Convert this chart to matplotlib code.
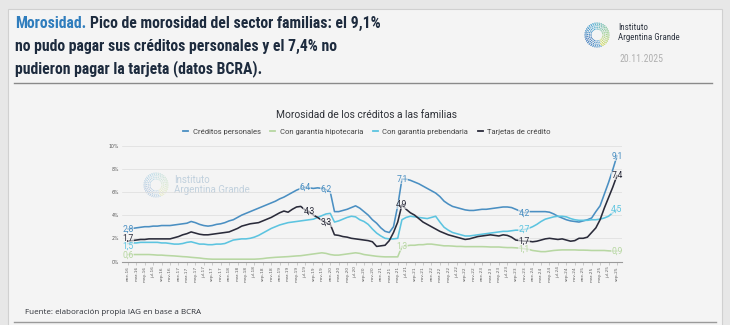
import numpy as np
import matplotlib
matplotlib.use('Agg')
import matplotlib.pyplot as plt
from matplotlib.lines import Line2D
from matplotlib.patches import Rectangle
from matplotlib.colors import LinearSegmentedColormap
from matplotlib import font_manager

# ---------------- data ----------------
meses = ['ene', 'feb', 'mar', 'abr', 'may', 'jun', 'jul', 'ago', 'sep', 'oct', 'nov', 'dic']
periodos = [f"{meses[i % 12]}-{16 + i // 12}" for i in range(117)]  # ene-16 .. sep-25

personales = [
    2.8, 2.85, 2.9, 2.95, 3.0, 3.0, 3.05, 3.05, 3.1, 3.1, 3.1, 3.15,
    3.2, 3.25, 3.3, 3.45, 3.35, 3.2, 3.1, 3.05, 3.1, 3.2, 3.25, 3.35,
    3.5, 3.6, 3.8, 4.0, 4.15, 4.3, 4.45, 4.6, 4.75, 4.9, 5.05, 5.2,
    5.4, 5.55, 5.75, 5.95, 6.15, 6.3, 6.4, 6.35, 6.3, 6.35, 6.3, 6.2,
    6.0, 4.3, 4.3, 4.4, 4.5, 4.65, 4.8, 4.6, 4.3, 4.0, 3.6, 3.3,
    2.9, 2.6, 2.5, 3.0, 4.8, 7.1, 7.1, 7.0, 6.85, 6.7, 6.5, 6.3,
    6.1, 5.9, 5.6, 5.2, 4.95, 4.75, 4.65, 4.55, 4.45, 4.4, 4.4, 4.45,
    4.5, 4.5, 4.55, 4.6, 4.65, 4.7, 4.7, 4.65, 4.5, 4.35, 4.2, 4.3,
    4.3, 4.3, 4.3, 4.3, 4.25, 4.1, 3.9, 3.75, 3.6, 3.5, 3.45, 3.4,
    3.5, 3.6, 3.75, 4.3, 4.8, 5.8, 6.8, 7.9, 9.1,
]
hipotecaria = [
    0.6, 0.6, 0.6, 0.6, 0.6, 0.6, 0.58, 0.55, 0.55, 0.52, 0.5, 0.48,
    0.45, 0.42, 0.4, 0.36, 0.33, 0.3, 0.25, 0.22, 0.2, 0.2, 0.2, 0.2,
    0.2, 0.2, 0.2, 0.2, 0.2, 0.2, 0.2, 0.22, 0.25, 0.3, 0.33, 0.36,
    0.38, 0.4, 0.42, 0.45, 0.48, 0.5, 0.55, 0.6, 0.65, 0.7, 0.75, 0.7,
    0.6, 0.55, 0.55, 0.6, 0.65, 0.7, 0.75, 0.7, 0.6, 0.55, 0.5, 0.45,
    0.42, 0.4, 0.4, 0.4, 0.4, 1.3, 1.35, 1.4, 1.4, 1.45, 1.45, 1.5,
    1.5, 1.45, 1.4, 1.35, 1.35, 1.33, 1.3, 1.3, 1.28, 1.28, 1.28, 1.28,
    1.28, 1.27, 1.25, 1.25, 1.25, 1.22, 1.2, 1.2, 1.18, 1.15, 1.1, 1.05,
    0.95, 0.9, 0.85, 0.85, 0.9, 0.95, 0.98, 1.0, 1.0, 1.0, 1.0, 0.98,
    0.98, 0.97, 0.95, 0.95, 0.95, 0.95, 0.92, 0.9, 0.9,
]
prendaria = [
    1.55, 1.6, 1.6, 1.65, 1.65, 1.65, 1.65, 1.65, 1.6, 1.6, 1.55, 1.5,
    1.5, 1.55, 1.65, 1.7, 1.6, 1.5, 1.5, 1.45, 1.45, 1.5, 1.5, 1.55,
    1.7, 1.85, 1.9, 1.95, 1.95, 2.0, 2.1, 2.25, 2.45, 2.65, 2.85, 3.0,
    3.15, 3.25, 3.35, 3.4, 3.45, 3.5, 3.55, 3.6, 3.65, 3.8, 3.95, 4.1,
    4.15, 3.4, 3.5, 3.65, 3.8, 3.9, 3.85, 3.6, 3.45, 3.2, 2.8, 2.45,
    2.2, 2.0, 1.95, 1.95, 2.0, 3.6, 3.8, 3.9, 3.85, 3.8, 3.75, 3.7,
    3.8, 3.9, 3.4, 2.95, 2.7, 2.5, 2.4, 2.3, 2.2, 2.2, 2.25, 2.3,
    2.35, 2.4, 2.45, 2.5, 2.55, 2.6, 2.6, 2.65, 2.7, 2.7, 2.75, 2.85,
    3.0, 3.2, 3.45, 3.65, 3.75, 3.85, 3.9, 3.9, 3.85, 3.7, 3.6, 3.55,
    3.55, 3.55, 3.6, 3.6, 3.65, 3.75, 3.9, 4.2, 4.5,
]
tarjetas = [
    1.75, 1.8, 1.85, 1.9, 1.9, 1.95, 1.95, 1.95, 1.95, 1.95, 1.95, 2.05,
    2.15, 2.3, 2.4, 2.55, 2.45, 2.35, 2.3, 2.3, 2.35, 2.4, 2.45, 2.5,
    2.55, 2.7, 2.85, 3.05, 3.15, 3.25, 3.3, 3.35, 3.5, 3.65, 3.8, 4.0,
    4.2, 4.35, 4.25, 4.5, 4.7, 4.75, 4.45, 4.3, 4.0, 3.8, 3.55, 3.35,
    3.2, 2.3, 2.25, 2.15, 2.1, 2.0, 1.95, 1.9, 1.85, 1.8, 1.7, 1.3,
    1.35, 1.4, 1.8, 2.5, 3.4, 4.9, 4.5, 4.2, 4.0, 3.7, 3.4, 3.2,
    3.0, 2.8, 2.6, 2.45, 2.3, 2.2, 2.1, 2.0, 1.9, 1.95, 2.05, 2.15,
    2.2, 2.25, 2.3, 2.25, 2.2, 2.3, 2.25, 2.1, 1.85, 1.8, 1.75, 1.75,
    1.7, 1.75, 1.85, 1.95, 2.0, 1.95, 1.9, 1.95, 1.85, 1.75, 1.8, 2.0,
    2.0, 2.1, 2.5, 2.9, 3.6, 4.6, 5.5, 6.4, 7.4,
]

series_names = ['Créditos personales', 'Con garantía hipotecaria',
                'Con garantía prebendaria', 'Tarjetas de crédito']
series_vals = [personales, hipotecaria, prendaria, tarjetas]
series_cols = ['#4a8fc2', '#b7d7a2', '#5cc4e0', '#2a2b3a']

# labelled points: (series index, month index, text, vertical nudge in points)
etiquetas = [
    (0, 0, '2,8', 0), (3, 0, '1,7', 2.0), (2, 0, '1,5', -2.2), (1, 0, '0,6', -0.5),
    (0, 42, '6,4', 0), (0, 47, '6,2', 0), (3, 43, '4,3', 0), (3, 47, '3,3', 0),
    (0, 65, '7,1', 0), (3, 65, '4,9', 0), (1, 65, '1,3', 0),
    (0, 94, '4,2', 0), (2, 94, '2,7', 0), (3, 94, '1,7', 0), (1, 94, '1,1', -0.5),
    (0, 116, '9,1', 0), (3, 116, '7,4', 0), (2, 116, '4,5', 0), (1, 116, '0,9', 0),
]

titulo_1a = 'Morosidad.'
titulo_1b = 'Pico de morosidad del sector familias: el 9,1%'
titulo_2 = 'no pudo pagar sus créditos personales y el 7,4% no'
titulo_3 = 'pudieron pagar la tarjeta (datos BCRA).'
titulo_graf = 'Morosidad de los créditos a las familias'
fuente = 'Fuente: elaboración propia IAG en base a BCRA'
fecha = '20.11.2025'

# choose a condensed face if one is installed
installed = {f.name for f in font_manager.fontManager.ttflist}
cond = [n for n in ['Roboto Condensed', 'Open Sans Condensed', 'Liberation Sans Narrow',
                    'Noto Sans Condensed', 'DejaVu Sans Condensed'] if n in installed]
TFONT = cond[:1] + ['Roboto', 'DejaVu Sans']

# ---------------- figure ----------------
W, H = 730, 325
fig = plt.figure(figsize=(7.3, 3.25), dpi=100)
fig.patch.set_facecolor('#e7e7e7')

deco = fig.add_axes([0, 0, 1, 1], zorder=0)
deco.set_xlim(0, W)
deco.set_ylim(H, 0)
deco.axis('off')

CARD = '#f4f4f4'
deco.add_patch(Rectangle((8, 9), 714, 320, facecolor=CARD, edgecolor='#d0d0d0', lw=0.8))
deco.plot([14, 712], [83, 83], color='#8a8a8a', lw=1.0)
deco.plot([14, 716], [322, 322], color='#9a9a9a', lw=1.0)

fig.canvas.draw()
renderer = fig.canvas.get_renderer()


def width_of(t):
    return t.get_window_extent(renderer).width


TKW = dict(fontweight='bold', family=TFONT, fontstretch='condensed')
probe = deco.text(0, 0, titulo_1a + ' ' + titulo_1b, fontsize=12, **TKW)
fs = 12 * 368 / width_of(probe)
probe.remove()

t1 = deco.text(15, 27.5, titulo_1a, fontsize=fs, color='#2f7dbd', va='baseline', **TKW)
sp1 = deco.text(0, 0, 'a a', fontsize=fs, **TKW)
sp2 = deco.text(0, 0, 'aa', fontsize=fs, **TKW)
space_w = width_of(sp1) - width_of(sp2)
sp1.remove(); sp2.remove()
deco.text(15 + width_of(t1) + space_w, 27.5, titulo_1b, fontsize=fs,
          color='#1d2b3e', va='baseline', **TKW)
deco.text(15, 50.5, titulo_2, fontsize=fs, color='#1d2b3e', va='baseline', **TKW)
deco.text(15, 73, titulo_3, fontsize=fs, color='#1d2b3e', va='baseline', **TKW)

# logos
logo_cmap = LinearSegmentedColormap.from_list('logo', ['#d5dc55', '#8cc98f', '#45a8d4', '#2f6db5', '#5aa0d0'])


def draw_logo(cx, cy, R, alpha, s):
    for k, rr in enumerate([0.5, 0.64, 0.78, 0.9, 1.0]):
        n = int(14 + 22 * rr)
        th = np.linspace(0, 2 * np.pi, n, endpoint=False) + 0.13 * k
        t = ((th + 1.2) % (2 * np.pi)) / (2 * np.pi)
        deco.scatter(cx + R * rr * np.cos(th), cy - R * rr * np.sin(th), s=s * (0.6 + 0.5 * rr),
                     c=logo_cmap(t), alpha=alpha, linewidths=0, zorder=2)


draw_logo(597, 35, 12, 0.95, 0.9)
deco.text(618, 30, 'Instituto', fontsize=6.5, family=TFONT, fontstretch='condensed',
          color='#333a45', va='baseline')
deco.text(618, 40.5, 'Argentina Grande', fontsize=6.5, family=TFONT, fontstretch='condensed',
          color='#333a45', va='baseline')
deco.text(620, 62, fecha, fontsize=7, family=TFONT, color='#b0b0b0', va='baseline')

# watermark in chart
draw_logo(156, 185, 12, 0.35, 0.7)
deco.text(174, 183, 'Instituto', fontsize=7, family=['Roboto', 'DejaVu Sans'],
          color='#c0d0dd', va='baseline')
deco.text(174, 193, 'Argentina Grande', fontsize=7, family=['Roboto', 'DejaVu Sans'],
          color='#c0d0dd', va='baseline')

# chart title + footer
deco.text(367, 114.5, titulo_graf, fontsize=7.4, family=['Roboto', 'DejaVu Sans'],
          color='#2e3138', ha='center', va='center')
deco.text(25, 313, fuente, fontsize=5.8, family=['Open Sans', 'DejaVu Sans'],
          color='#2e3138', va='center')

# ---------------- chart axes ----------------
x0_px, x1_px = 122, 622
y_top, y_bot = 145.5, 261.5
ax = fig.add_axes([x0_px / W, 1 - y_bot / H, (x1_px - x0_px) / W, (y_bot - y_top) / H], zorder=1)
ax.patch.set_alpha(0)
ax.set_xlim(-1.4, 117.2)
ax.set_ylim(0, 10)

x = np.arange(len(periodos))
for vals, col, name in zip(series_vals, series_cols, series_names):
    ax.plot(x, vals, color=col, lw=1.15, label=name, zorder=3, solid_joinstyle='round')

for si, mi, txt, dy in etiquetas:
    ax.annotate(txt, (x[mi], series_vals[si][mi]), xytext=(0, dy), textcoords='offset points',
                fontsize=6.2, color=series_cols[si], ha='center', va='center', zorder=4,
                family=['Roboto', 'DejaVu Sans'],
                bbox=dict(boxstyle='square,pad=0.02', fc=CARD, ec='none', alpha=0.6))

ax.set_yticks(np.arange(0, 11, 2))
ax.set_yticklabels([f'{v}%' for v in range(0, 11, 2)], fontsize=3.3, color='#555555')
ax.tick_params(axis='y', length=0, pad=2)
ax.grid(axis='y', color='#dddddd', lw=0.5)
ax.set_axisbelow(True)

ax.set_xticks(x[::2])
ax.set_xticklabels(periodos[::2], rotation=90, fontsize=3.1, color='#606060')
ax.tick_params(axis='x', length=2, width=0.4, color='#aaaaaa', pad=1.5)

for s in ['top', 'right', 'left']:
    ax.spines[s].set_visible(False)
ax.spines['bottom'].set_color('#9a9a9a')
ax.spines['bottom'].set_linewidth(0.8)

handles = [Line2D([], [], color=c, lw=1.3) for c in series_cols]
fig.legend(handles, series_names, loc='center', bbox_to_anchor=(367 / W, 1 - 132 / H),
           ncol=4, frameon=False, handlelength=0.6, handletextpad=0.6,
           columnspacing=1.3, labelcolor='#444444', prop={'family': ['Roboto', 'DejaVu Sans'], 'size': 5.5})

fig.savefig('out.png', dpi=100, facecolor=fig.get_facecolor())
